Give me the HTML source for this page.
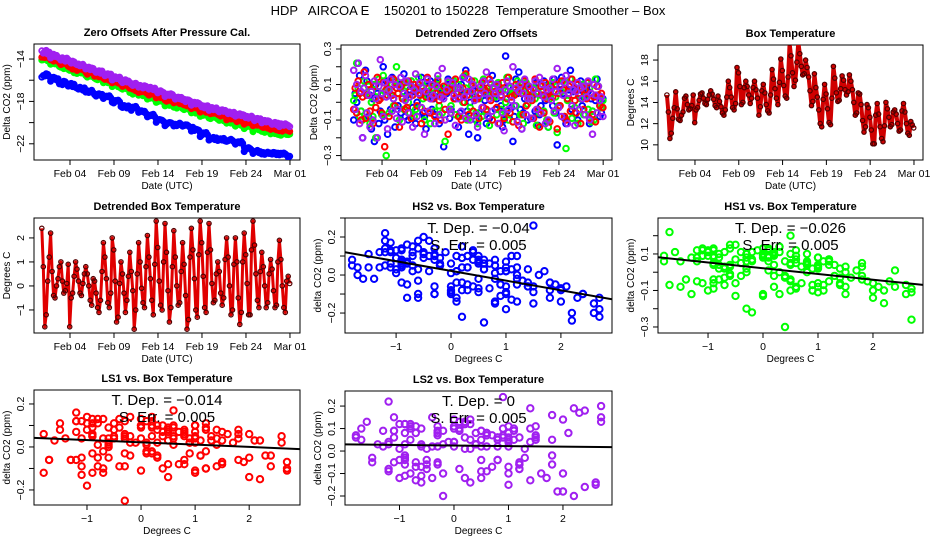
<!DOCTYPE html>
<html><head><meta charset="utf-8"><style>
html,body{margin:0;padding:0;background:#fff;}
svg{display:block;font-family:"Liberation Sans",sans-serif;}
</style></head><body>
<svg id="chart" width="936" height="540" viewBox="0 0 936 540">
<text x="468" y="15" text-anchor="middle" font-size="13" xml:space="preserve">HDP   AIRCOA E    150201 to 150228  Temperature Smoother – Box</text>
</svg>
<script>
// ---- data ----
const dT=[2.4,0.8,-1.7,-1.2,0.2,1.2, 2.2,0.6,-0.4,-0.5,0.0,0.3, 0.8,1.0,0.2,-0.3,-0.2,0.1, 0.9,-1.7,-0.5,-0.3,0.4,1.0,
0.7,0.2,-0.3,-0.4,0.1,0.5, 0.8,0.5,0.0,-0.6,-0.8,0.3, 0.2,-0.3,-0.9,-1.1,-0.6,0.6, 1.8,1.2,0.3,-0.7,-0.9,-0.3,
2.0,1.5,0.2,-1.5,-1.3,0.1, 1.0,0.5,-0.3,-1.1,-0.6,0.4, 1.4,0.6,-0.2,-1.8,-1.0,0.5, 1.8,1.0,-0.1,-0.7,-0.9,0.8,
2.1,1.2,0.3,-0.6,-1.2,0.9, 2.7,1.6,0.2,-0.8,-1.0,1.0, 2.6,1.4,-0.2,-1.5,-0.9,0.8, 2.3,1.2,0.0,-0.8,-0.7,0.6,
1.8,0.9,-0.4,-1.8,-1.4,1.2, 2.4,1.5,0.3,-1.0,-1.3,1.3, 2.7,1.8,0.4,-0.9,-1.1,1.4, 2.6,1.5,0.1,-0.7,-0.6,0.5,
1.0,0.6,-0.3,-0.8,-0.5,1.1, 2.0,1.2,0.0,-1.2,-1.0,0.9, 2.0,1.0,-0.5,-1.6,-1.1,1.0, 2.2,1.3,0.1,-1.2,-1.2,1.5,
2.7,1.7,0.5,-0.6,-0.9,0.6, 1.4,0.8,0.0,-0.9,-0.7,0.5, 1.1,0.7,-0.2,-0.9,-0.8,1.0, 1.9,1.1,0.0,-0.9,-1.1,0.2, 0.4,0.1];
const smoothTemp=[12.3,12.8,13.6,13.8,14.2,14.3,13.9,14.2,15.3,15.0,14.6,13.9,15.0,15.4,17.0,17.4,15.5,13.0,13.0,14.8,15.5,14.0,12.8,11.3,11.2,12.6,12.2,12.0,11.5];
const trendLS2=[-13.4,-13.7,-14.0,-14.3,-14.6,-14.9,-15.2,-15.5,-15.8,-16.1,-16.4,-16.6,-16.8,-17.1,-17.4,-17.7,-17.9,-18.2,-18.5,-18.7,-18.9,-19.1,-19.3,-19.5,-19.7,-19.9,-20.1,-20.2,-20.3];
const trendLS1=[-13.8,-14.1,-14.4,-14.7,-15.0,-15.3,-15.6,-15.9,-16.2,-16.5,-16.8,-17.1,-17.3,-17.6,-17.9,-18.1,-18.3,-18.6,-18.9,-19.1,-19.3,-19.6,-19.8,-20.0,-20.2,-20.4,-20.6,-20.7,-20.8];
const trendHS1=[-14.1,-14.4,-14.7,-15.0,-15.3,-15.6,-15.9,-16.2,-16.5,-16.8,-17.1,-17.4,-17.7,-18.0,-18.3,-18.5,-18.7,-19.0,-19.3,-19.5,-19.7,-20.0,-20.2,-20.4,-20.6,-20.8,-21.0,-21.1,-21.1];
const trendHS2=[-15.6,-15.9,-16.2,-16.5,-16.8,-17.1,-17.4,-17.6,-18.0,-18.5,-18.6,-19.0,-19.4,-19.8,-20.1,-20.2,-20.3,-20.7,-21.1,-21.5,-21.6,-21.7,-21.9,-22.5,-22.8,-22.9,-22.9,-23.0,-23.2];
const residHS2=[-0.10,0.05,0.00,0.22,0.15,-0.05, -0.20,0.08,0.18,0.12,-0.08,0.04, -0.15,0.02,-0.22,0.10,0.05,-0.12, -0.05,0.04,0.20,-0.10,0.12,-0.18,
0.06,-0.04,0.14,0.02,-0.14,0.08, -0.02,0.10,-0.06,0.03,0.16,-0.08, 0.04,-0.10,0.07,0.12,-0.03,0.06, -0.12,0.00,0.10,0.05,0.14,-0.06,
-0.08,-0.15,0.09,0.04,0.12,-0.04, 0.02,-0.07,0.11,0.06,-0.12,0.08, 0.03,-0.25,0.06,0.05,0.13,-0.09, -0.04,0.07,0.12,0.02,0.08,-0.14,
-0.06,0.10,0.04,0.14,0.18,-0.05, -0.18,0.00,0.09,0.07,0.03,-0.10, -0.20,-0.06,0.05,0.11,0.08,0.01, -0.12,0.04,-0.09,0.06,0.15,0.03,
-0.04,0.02,0.10,0.08,-0.02,-0.14, -0.10,0.26,-0.05,0.09,0.04,-0.03, -0.22,-0.08,0.13,0.05,0.17,-0.04, -0.15,-0.06,0.02,0.10,-0.10,0.06,
-0.09,0.03,0.08,-0.05,0.11,-0.13, -0.07,-0.02,0.06,0.12,0.01,-0.11, -0.14,0.04,0.09,-0.02,0.13,-0.06, -0.24,-0.03,0.10,0.14,0.05,-0.09,
-0.12,0.02,0.07,0.18,-0.04,0.06, -0.06,0.08,-0.10,0.04,0.12,-0.02, 0.03,-0.07,0.09,0.06,-0.12,0.02, -0.05,0.10,0.01,0.13,0.04,-0.08, -0.06,0.02];
const residHS1=[0.01,0.04,0.22,0.08,-0.08,-0.05, -0.10,0.12,0.05,-0.06,0.09,-0.12, 0.00,-0.08,0.10,-0.20,0.06,0.13, 0.02,-0.07,0.15,0.06,-0.30,0.08,
-0.06,0.04,0.10,-0.02,0.12,0.20, 0.05,-0.10,0.08,0.03,-0.04,0.11, 0.09,0.00,-0.06,0.12,0.04,-0.08, -0.04,0.07,0.14,-0.03,0.09,0.02,
-0.10,0.03,0.11,0.06,-0.12,0.08, 0.04,-0.05,0.10,0.13,-0.02,0.06, -0.06,0.05,-0.22,0.09,0.11,-0.04, -0.02,0.08,0.12,-0.07,0.05,0.10,
-0.08,0.06,0.00,0.15,0.08,-0.10, -0.09,-0.03,0.10,0.04,0.12,-0.06, -0.12,0.02,0.07,-0.08,0.13,0.05, -0.05,0.06,-0.13,0.10,0.03,0.09,
0.03,-0.07,0.11,0.06,-0.04,0.07, -0.08,0.00,0.14,-0.10,0.08,0.04, -0.11,0.05,-0.02,0.12,0.09,-0.07, -0.07,-0.12,0.06,0.11,-0.01,0.04,
0.03,-0.09,0.08,0.02,-0.13,0.06, -0.06,0.04,0.10,-0.05,0.09,-0.10, -0.14,0.02,0.07,0.11,-0.06,0.03, -0.17,-0.02,0.09,0.06,0.12,-0.08,
-0.26,0.01,0.05,0.13,-0.09,0.07, -0.03,0.06,-0.12,0.08,0.02,0.10, -0.07,0.03,0.11,-0.04,0.08,-0.11, -0.05,-0.10,0.13,0.04,0.09,-0.02, -0.03,0.01];
const residLS1=[-0.04,0.08,-0.06,0.12,0.05,-0.10, 0.03,0.17,-0.09,0.04,0.10,-0.05, 0.06,-0.12,0.09,-0.03,0.14,0.01, 0.02,-0.06,0.11,-0.25,0.07,0.04,
-0.08,0.10,0.04,0.13,-0.02,0.08, 0.05,-0.14,0.09,0.02,0.11,-0.04, -0.03,0.12,0.06,-0.09,0.04,0.10, 0.08,-0.02,0.10,0.04,-0.12,0.06,
-0.05,0.03,0.14,0.08,-0.06,0.02, 0.10,-0.08,0.05,0.12,0.01,-0.10, 0.04,0.09,-0.04,0.06,-0.18,0.07, -0.06,0.10,0.02,0.13,0.05,-0.08,
0.03,-0.10,0.08,0.00,0.16,0.04, -0.07,0.06,0.12,-0.05,0.08,0.02, 0.02,-0.09,0.05,0.11,-0.03,0.07, -0.04,0.08,0.13,0.01,-0.10,0.05,
0.06,-0.03,0.09,-0.12,0.04,0.11, -0.09,0.07,0.02,0.14,-0.06,0.03, -0.11,0.04,0.10,0.06,-0.13,0.08, 0.05,-0.07,0.12,-0.02,0.09,0.03,
0.07,0.01,-0.09,0.13,0.05,-0.04, -0.14,0.09,0.04,-0.06,0.11,0.02, 0.06,-0.11,0.08,0.03,-0.05,0.10, -0.15,0.05,-0.02,0.12,0.07,-0.08,
-0.10,0.02,0.09,-0.05,0.13,0.04, 0.01,-0.06,0.10,0.05,-0.12,0.08, -0.04,0.07,0.02,0.11,-0.09,0.05, -0.07,0.03,-0.11,0.09,0.04,-0.02, 0.05,-0.03];
const residLS2=[0.18,-0.04,0.10,0.22,-0.12,0.06, -0.20,0.08,0.15,-0.06,0.04,-0.14, 0.06,-0.10,0.12,0.02,-0.20,0.09, 0.24,0.05,-0.08,0.11,0.03,-0.15,
0.07,0.13,-0.05,0.02,0.10,-0.09, -0.04,0.09,0.14,-0.11,0.05,0.01, 0.12,-0.06,0.03,0.09,-0.14,0.07, 0.16,-0.08,0.05,0.11,-0.03,0.08,
-0.18,0.06,0.13,-0.05,0.02,0.10, 0.04,-0.12,0.09,0.15,-0.07,0.03, 0.19,0.02,-0.10,0.07,0.12,-0.04, -0.06,0.11,0.04,-0.13,0.08,0.02,
0.08,-0.05,0.14,0.03,-0.09,0.06, 0.13,-0.10,0.06,0.10,0.01,-0.07, -0.14,0.04,0.09,-0.03,0.12,0.05, 0.17,-0.08,0.02,0.11,-0.05,0.08,
0.05,0.10,-0.12,0.06,0.03,-0.06, -0.16,0.07,0.12,-0.04,0.09,0.01, 0.20,-0.02,0.08,-0.11,0.06,0.10, -0.15,0.05,0.13,-0.07,0.02,0.09,
0.02,-0.09,0.07,0.12,-0.04,0.05, 0.14,-0.06,0.10,0.03,-0.12,0.07, -0.10,0.08,0.01,0.13,-0.05,0.06, 0.19,-0.03,0.09,-0.08,0.04,0.11,
0.15,-0.12,0.05,0.10,-0.02,0.07, -0.13,0.06,0.11,-0.04,0.08,0.02, 0.09,-0.07,0.03,0.12,-0.10,0.05, -0.18,0.10,0.04,-0.06,0.09,0.01, 0.03,-0.08];
const startDay=0.8, stepsPerDay=6;
const timeTicks=[4,9,14,19,24,29];
const timeTickLabels=["Feb 04","Feb 09","Feb 14","Feb 19","Feb 24","Mar 01"];
const tempTicks=[-1,0,1,2];
const tempTickLabels=["−1","0","1","2"];
const depLabels=["T. Dep. =  −0.04","T. Dep. =  −0.026","T. Dep. =  −0.014","T. Dep. =  0"];
const errLabels=["S. Err. =  0.005","S. Err. =  0.005","S. Err. =  0.005","S. Err. =  0.005"];

// ---- drawing ----
const NS="http://www.w3.org/2000/svg";
const svg=document.getElementById('chart');
function mk(tag,attrs,parent){const e=document.createElementNS(NS,tag);for(const k in attrs)e.setAttribute(k,attrs[k]);(parent||svg).appendChild(e);return e;}
function tOf(i){return startDay+i/stepsPerDay;}
function grp(i){return Math.min(smoothTemp.length-1,Math.floor(i/stepsPerDay));}

function frame(p,name){
  const g=mk('g',{});
  
  
  p.g=g;
  p.sx=v=>p.x0+(v-p.xd[0])/(p.xd[1]-p.xd[0])*(p.x1-p.x0);
  p.sy=v=>p.y1-(v-p.yd[0])/(p.yd[1]-p.yd[0])*(p.y1-p.y0);
  const box=mk('rect',{x:p.x0,y:p.y0,width:p.x1-p.x0,height:p.y1-p.y0,fill:'none',stroke:'#000','stroke-width':1},g);
  
  
  const t=mk('text',{x:(p.x0+p.x1)/2,y:p.y0-8,'text-anchor':'middle','font-size':11,'font-weight':'bold'},g);
  t.textContent=p.title;
  
  
  const xa=mk('g',{},g);
  
  
  p.xt.forEach((v,k)=>{const x=p.sx(v);
    mk('line',{x1:x,x2:x,y1:p.y1,y2:p.y1+5,stroke:'#000'},xa);
    const l=mk('text',{x:x,y:p.y1+17,'text-anchor':'middle','font-size':10.5},xa);l.textContent=p.xl[k];
    
    });
  const xt=mk('text',{x:(p.x0+p.x1)/2,y:p.y1+29,'text-anchor':'middle','font-size':10},g);xt.textContent=p.xlab;
  
  
  const ya=mk('g',{},g);
  
  
  p.yt.forEach((v,k)=>{const y=p.sy(v);
    mk('line',{x1:p.x0-5,x2:p.x0,y1:y,y2:y,stroke:'#000'},ya);
    if(p.yl[k]!==''){const l=mk('text',{x:p.x0-10,y:y,'text-anchor':'middle','font-size':10.5,transform:`rotate(-90 ${p.x0-10} ${y})`},ya);l.textContent=p.yl[k];
    
    }});
  const cy=(p.y0+p.y1)/2, cx=p.x0-24;
  const yt=mk('text',{x:cx,y:cy,'text-anchor':'middle','font-size':10,transform:`rotate(-90 ${cx} ${cy})`},g);yt.textContent=p.ylab;
  
  
  const clip=mk('clipPath',{id:'c-'+name},g);mk('rect',{x:p.x0,y:p.y0,width:p.x1-p.x0,height:p.y1-p.y0},clip);
  p.plot=mk('g',{'clip-path':`url(#c-${name})`},g);
  return p;
}
function pts(p,xs,ys,color,name,r,sw){
  const s=mk('g',{fill:'none',stroke:color,'stroke-width':sw||1.6},p.plot);
  
  
  for(let i=0;i<ys.length;i++){
    const c=mk('circle',{cx:p.sx(xs[i]).toFixed(1),cy:p.sy(ys[i]).toFixed(1),r:r||2.8},s);
    
    
  }
}
function trail(p,xs,ys,color,name,w){
  const d=ys.map((v,i)=>(i?'L':'M')+p.sx(xs[i]).toFixed(1)+','+p.sy(v).toFixed(1)).join('');
  const pa=mk('path',{d:d,fill:'none',stroke:color,'stroke-width':w,'stroke-linejoin':'round'},p.plot);
  
  
}
const times=dT.map((v,i)=>tOf(i));
const dateX={xlab:'Date (UTC)',xt:timeTicks,xl:timeTickLabels};
const degX={xlab:'Degrees C',xt:tempTicks,xl:tempTickLabels};

// Panel 1
const p1=frame(Object.assign({x0:34,y0:44,x1:300,y1:160,xd:[-0.09,30.14],yd:[-23.53,-12.58],title:'Zero Offsets After Pressure Cal.',ylab:'Delta CO2 (ppm)',yt:[-14,-16,-18,-20,-22],yl:['−14','','−18','','−22']},dateX),'zero-offsets');
[[trendHS2,residHS2,'#0000ff','hs2'],[trendHS1,residHS1,'#00ff00','hs1'],[trendLS1,residLS1,'#ff0000','ls1'],[trendLS2,residLS2,'#a020f0','ls2']].forEach(s=>{
  const ys=s[1].map((v,i)=>s[0][grp(i)]+v);
  trail(p1,times,ys,s[2],s[3]+'-offset-band',5);
  pts(p1,times,ys,s[2],s[3]+'-offset-series',2.6,1.8);
});
// Panel 2
const p2=frame(Object.assign({x0:341,y0:45,x1:612,y1:160,xd:[-0.64,30.0],yd:[-0.325,0.3225],title:'Detrended Zero Offsets',ylab:'Delta CO2 (ppm)',yt:[0.3,0.2,0.1,0,-0.1,-0.2,-0.3],yl:['0.3','','0.1','','−0.1','','−0.3']},dateX),'detrended-offsets');
pts(p2,times,residHS2,'#0000ff','hs2-detrended-series',2.8,2);
pts(p2,times,residHS1,'#00ff00','hs1-detrended-series',2.8,2);
pts(p2,times,residLS1,'#ff0000','ls1-detrended-series',2.8,2);
pts(p2,times,residLS2,'#a020f0','ls2-detrended-series',2.8,2);
// Panel 3
const p3=frame(Object.assign({x0:658,y0:45,x1:923,y1:160,xd:[-0.22,30.03],yd:[8.57,19.42],title:'Box Temperature',ylab:'Degrees C',yt:[10,12,14,16,18],yl:['10','12','14','16','18']},dateX),'box-temperature');
const boxT=dT.map((v,i)=>smoothTemp[grp(i)]+v);
trail(p3,times,boxT,'#d00000','box-temperature-trace',4);
pts(p3,times,boxT,'#500000','box-temperature-series',2.2,1.2);
// Panel 4
const p4=frame(Object.assign({x0:34,y0:218,x1:300,y1:333,xd:[-0.09,30.14],yd:[-1.96,2.83],title:'Detrended Box Temperature',ylab:'Degrees C',yt:[-1,0,1,2],yl:['−1','0','1','2']},dateX),'detrended-box-temp');
trail(p4,times,dT,'#e00000','detrended-temp-trace',3);
pts(p4,times,dT,'#500000','detrended-temp-series',2.2,1.2);
// Scatter panels
function scatter(cfg,ys,color,k,name){
  const p=frame(Object.assign(cfg,degX),name);
  pts(p,dT,ys,color,name+'-points',3.2,2);
  const n=dT.length;let mx=0,my=0;for(let i=0;i<n;i++){mx+=dT[i];my+=ys[i];}mx/=n;my/=n;
  let sxy=0,sxx=0;for(let i=0;i<n;i++){sxy+=(dT[i]-mx)*(ys[i]-my);sxx+=(dT[i]-mx)**2;}
  const b=sxy/sxx,a=my-b*mx;
  const ln=mk('line',{x1:p.x0,y1:p.sy(a+b*p.xd[0]),x2:p.x1,y2:p.sy(a+b*p.xd[1]),stroke:'#000','stroke-width':2},p.plot);
  
  
  const cx=(p.x0+p.x1)/2;
  const t1=mk('text',{x:cx,y:p.y0+15,'text-anchor':'middle','font-size':15,'xml:space':'preserve'},p.g);t1.textContent=depLabels[k];
  
  
  const t2=mk('text',{x:cx,y:p.y0+32,'text-anchor':'middle','font-size':15,'xml:space':'preserve'},p.g);t2.textContent=errLabels[k];
  
  
}
scatter({x0:345,y0:218,x1:612,y1:333,xd:[-1.93,2.93],yd:[-0.305,0.3],title:'HS2 vs. Box Temperature',ylab:'delta CO2 (ppm)',yt:[-0.2,-0.1,0,0.1,0.2,0.3],yl:['−0.2','','0.0','','0.2','']},residHS2,'#0000ff',0,'hs2-vs-temp');
scatter({x0:658,y0:218,x1:923,y1:333,xd:[-1.91,2.91],yd:[-0.333,0.297],title:'HS1 vs. Box Temperature',ylab:'delta CO2 (ppm)',yt:[0.2,0.1,0,-0.1,-0.2,-0.3],yl:['','0.1','','−0.1','','−0.3']},residHS1,'#00ff00',1,'hs1-vs-temp');
scatter({x0:34,y0:390,x1:300,y1:505,xd:[-1.98,2.94],yd:[-0.27,0.265],title:'LS1 vs. Box Temperature',ylab:'delta CO2 (ppm)',yt:[-0.2,-0.1,0,0.1,0.2],yl:['−0.2','','0.0','','0.2']},residLS1,'#ff0000',2,'ls1-vs-temp');
scatter({x0:345,y0:391,x1:612,y1:505,xd:[-2.0,2.9],yd:[-0.24,0.267],title:'LS2 vs. Box Temperature',ylab:'delta CO2 (ppm)',yt:[-0.2,-0.1,0,0.1,0.2],yl:['−0.2','−0.1','0.0','0.1','0.2']},residLS2,'#a020f0',3,'ls2-vs-temp');
</script>
</body></html>
